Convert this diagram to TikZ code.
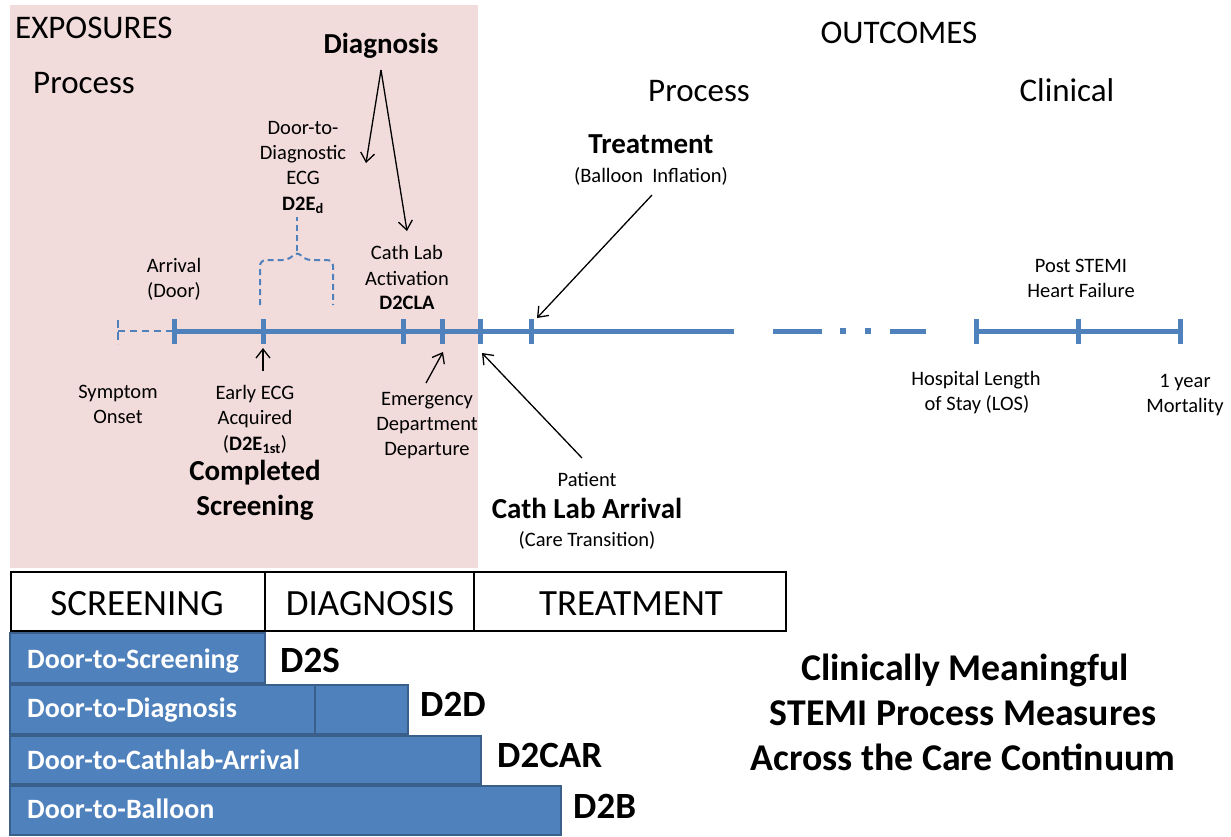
\documentclass[tikz,border=0pt]{standalone}
\usepackage{fontspec}
\setmainfont{Carlito}
\usetikzlibrary{arrows.meta}
\definecolor{pinkbg}{RGB}{242,220,219}
\definecolor{tlblue}{RGB}{79,129,189}
\definecolor{bardark}{RGB}{58,95,139}
\newcommand{\fsz}[1]{\fontsize{#1}{#1}\selectfont}
\begin{document}
\begin{tikzpicture}[x=1pt,y=-1pt,
  lbl/.style={font=\fsz{20.5}, anchor=base, inner sep=0},
  head/.style={font=\fsz{33}, anchor=base, inner sep=0},
  bhead/.style={font=\bfseries\fsz{29}, anchor=base, inner sep=0},
  tabtxt/.style={font=\fsz{37}, anchor=base, inner sep=0},
  bartxt/.style={font=\bfseries\fsz{28}, text=white, anchor=base west, inner sep=0},
  code/.style={font=\bfseries\fsz{37}, anchor=base west, inner sep=0},
  claim/.style={font=\bfseries\fsz{37.8}, anchor=base, inner sep=0},
  tl/.style={tlblue, line width=5pt},
  tick/.style={tlblue, line width=5pt},
  thindash/.style={tlblue, line width=2pt, dash pattern=on 7pt off 5pt},
  arr/.style={black, line width=1.3pt, -{Straight Barb[length=9pt,width=14pt,line width=1.3pt]}},
  bar/.style={fill=tlblue, draw=bardark, line width=1.5pt},
]
\useasboundingbox (0,0) rectangle (1231,836);
% background of exposures
\fill[pinkbg] (10,5) rectangle (478,568);

% headings
\node[head, anchor=base west] (exposures) at (15,38) {EXPOSURES};
\node[head, anchor=base west] (procL) at (33,93) {Process};
\node[head] (outcomes) at (899,43) {OUTCOMES};
\node[head] (procR) at (699,101) {Process};
\node[head] (clinical) at (1067,101) {Clinical};

% top labels
\node[bhead] (diag) at (381,53) {Diagnosis};
\node[lbl] (d2e1) at (303,134) {Door-to-};
\node[lbl] (d2e2) at (303,159) {Diagnostic};
\node[lbl] (d2e3) at (303,184) {ECG};
\node[lbl] (d2e4) at (303,210) {\textbf{D2E\textsubscript{d}}};
\node[lbl] (arr1) at (174,272) {Arrival};
\node[lbl] (arr2) at (174,297) {(Door)};
\node[lbl] (cla1) at (407,259) {Cath Lab};
\node[lbl] (cla2) at (407,285) {Activation};
\node[lbl] (cla3) at (407,309) {\textbf{D2CLA}};
\node[bhead] (treat) at (651,153) {Treatment};
\node[lbl] (balloon) at (651,182) {(Balloon\ \ Inflation)};
\node[lbl] (post1) at (1081,272) {Post STEMI};
\node[lbl] (post2) at (1081,297) {Heart Failure};

% bottom labels
\node[lbl] (sym1) at (118,398) {Symptom};
\node[lbl] (sym2) at (118,423) {Onset};
\node[lbl] (ecg1) at (255,399) {Early ECG};
\node[lbl] (ecg2) at (255,424) {Acquired};
\node[lbl] (ecg3) at (255,450) {(\textbf{D2E\textsubscript{1st}})};
\node[bhead] (comp1) at (255,480) {Completed};
\node[bhead] (comp2) at (255,515) {Screening};
\node[lbl] (ed1) at (427,405) {Emergency};
\node[lbl] (ed2) at (427,430) {Department};
\node[lbl] (ed3) at (427,455) {Departure};
\node[lbl] (pat) at (587,486) {Patient};
\node[bhead] (cla) at (587,518) {Cath Lab Arrival};
\node[lbl] (care) at (587,546) {(Care Transition)};
\node[lbl] (los1) at (976,385) {Hospital Length};
\node[lbl] (los2) at (977,410) {of Stay (LOS)};
\node[lbl] (mort1) at (1185,387) {1 year};
\node[lbl] (mort2) at (1185,412) {Mortality};

% timeline
\coordinate (t0) at (118,331);
\coordinate (t1) at (174,331);
\coordinate (t2) at (263,331);
\coordinate (t3) at (403,331);
\coordinate (t4) at (442,331);
\coordinate (t5) at (480,331);
\coordinate (t6) at (531,331);
\coordinate (tend) at (734,331);
\coordinate (c1) at (976,331);
\coordinate (c2) at (1078,331);
\coordinate (c3) at (1180,331);
\draw[thindash] (t0) -- (t1);
\draw[tlblue, line width=2pt, dash pattern=on 8pt off 4pt] (118,320) -- (118,344);
\draw[tl] (t1) -- (tend);
\draw[tl] (773,331) -- (822,331);
\fill[tlblue] (840,328) rectangle (846,334);
\fill[tlblue] (865,328) rectangle (871,334);
\draw[tl] (890,331) -- (926,331);
\draw[tl] (c1) -- (c3);
\foreach \t in {t1,t2,t3,t4,t5,t6,c1,c2,c3}
  \draw[tick] ([yshift=-12.5pt]\t) -- ([yshift=12.5pt]\t);

% dashed bracket
\draw[tlblue, line width=2pt, dash pattern=on 6pt off 4pt, rounded corners=6pt]
  (260,305) -- (260,260) -- (289,260) -- (297,251) -- (305,260) -- (333,260) -- (333,305);
\draw[tlblue, line width=2pt, dash pattern=on 6pt off 4pt] (297,251) -- (297,217);

% arrows
\coordinate (dgs) at (381,70);
\coordinate (dge1) at (366,163);
\coordinate (dge2) at (407,231);
\coordinate (ecgs) at (263,371);
\coordinate (ecge) at (263,348);
\coordinate (eds) at (426,383);
\coordinate (ede) at (443,352);
\coordinate (clas) at (582,458);
\coordinate (clae) at (482,353);
\coordinate (trs) at (652,195);
\coordinate (tre) at (537,318);
\draw[arr] (dgs) -- (dge1);
\draw[arr] (dgs) -- (dge2);
\draw[arr] (ecgs) -- (ecge);
\draw[arr] (eds) -- (ede);
\draw[arr] (clas) -- (clae);
\draw[arr] (trs) -- (tre);

% phase table
\draw[black, line width=1.5pt] (11,572) rectangle (786,631);
\draw[black, line width=1.5pt] (265,572) -- (265,631);
\draw[black, line width=1.5pt] (474,572) -- (474,631);
\node[tabtxt] (scr) at (137,615) {SCREENING};
\node[tabtxt] (dia) at (370,615) {DIAGNOSIS};
\node[tabtxt] (trt) at (631,615) {TREATMENT};

% bars
\draw[bar] (10,633) rectangle (265,683);
\draw[bar] (10,685) rectangle (408,734);
\draw[bardark, line width=1.5pt] (315,685) -- (315,734);
\draw[bar] (10,736) rectangle (481,784);
\draw[bar] (10,786) rectangle (561,835);
\node[bartxt] (b1) at (27,668) {Door-to-Screening};
\node[bartxt] (b2) at (27,717) {Door-to-Diagnosis};
\node[bartxt] (b3) at (27,769) {Door-to-Cathlab-Arrival};
\node[bartxt] (b4) at (27,818) {Door-to-Balloon};
\node[code] (d2s) at (280,672) {D2S};
\node[code] (d2d) at (420,716) {D2D};
\node[code] (d2car) at (497,767) {D2CAR};
\node[code] (d2b) at (573,818) {D2B};

% claim
\node[claim] (cl1) at (965,680) {Clinically Meaningful};
\node[claim] (cl2) at (963,725) {STEMI Process Measures};
\node[claim] (cl3) at (963,770) {Across the Care Continuum};
\end{tikzpicture}
\end{document}
